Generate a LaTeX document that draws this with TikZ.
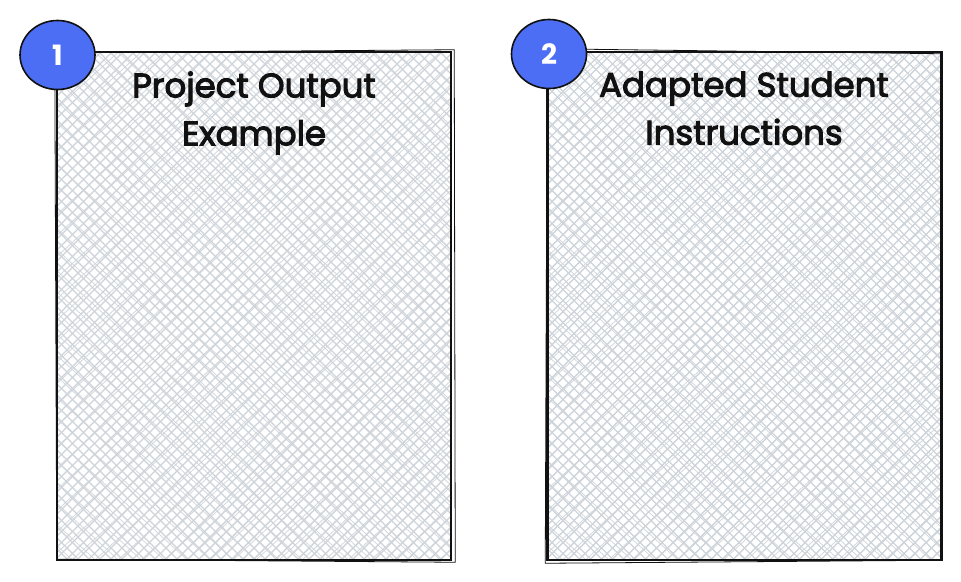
\documentclass[tikz,border=0pt]{standalone}
\usepackage{fontspec}
\setmainfont{Poppins}
\newfontfamily\handfont[FakeBold=3]{Poppins}
\usetikzlibrary{positioning,shapes.geometric}

\definecolor{numblue}{HTML}{4C6EF5}
\definecolor{hatchgray}{HTML}{CED4DA}
\definecolor{inkblack}{HTML}{111111}

\tikzset{
  hatchline/.style={hatchgray, line width=1.4pt},
  panel/.style={draw=inkblack, line width=2.5pt, minimum width=394pt, minimum height=508pt, inner sep=0pt,
    path picture={
      \foreach \s in {-530,-519,...,410} {
        \draw[hatchline] ([xshift=\s pt]path picture bounding box.south west) -- ++(540pt,540pt);
        \draw[hatchline] ([xshift=\s pt]path picture bounding box.north west) -- ++(540pt,-540pt);
      }
      \foreach \s in {-560,-537,...,410} {
        \draw[hatchline, line width=0.7pt] ([xshift=\s pt]path picture bounding box.south west) -- ++(560pt,515pt);
        \draw[hatchline, line width=0.7pt] ([xshift=\s pt]path picture bounding box.north west) -- ++(560pt,-515pt);
      }
    }},
  sketch/.style={inkblack, line width=0.8pt},
  numbadge/.style={ellipse, draw=inkblack, line width=1.6pt, fill=numblue, minimum width=75pt, minimum height=69pt,
    inner sep=0pt, text=white, font=\bfseries\fontsize{28}{28}\selectfont},
  title/.style={align=center, text=inkblack, font=\handfont\fontsize{34}{48}\selectfont}
}

\begin{document}
\begin{tikzpicture}[x=1pt, y=-1pt]
  \useasboundingbox (0,0) rectangle (961,581);
  \fill[white] (0,0) rectangle (961,581);

  % the two panels
  \node[panel] (box1) at (254,306) {};
  \node[panel] (box2) at (744.5,306) {};

  % rough second stroke
  \draw[sketch] ([shift={(-1,2)}]box1.north west) -- ([shift={(2,-1)}]box1.north east)
    -- ([shift={(3,1)}]box1.south east) -- ([shift={(1,-2)}]box1.south west) -- cycle;
  \draw[sketch] ([shift={(1,-2)}]box2.north west) -- ([shift={(-1,3)}]box2.north east)
    -- ([shift={(-2,-1)}]box2.south east) -- ([shift={(-1,2)}]box2.south west) -- cycle;

  % titles
  \node[title, anchor=north] (title1) at (254,68) {Project Output\\Example};
  \node[title, anchor=north] (title2) at (744,68) {Adapted Student\\Instructions};

  % numbers
  \node[numbadge] (num1) at (57.5,55) {1};
  \node[numbadge] (num2) at (549,54) {2};
\end{tikzpicture}
\end{document}
